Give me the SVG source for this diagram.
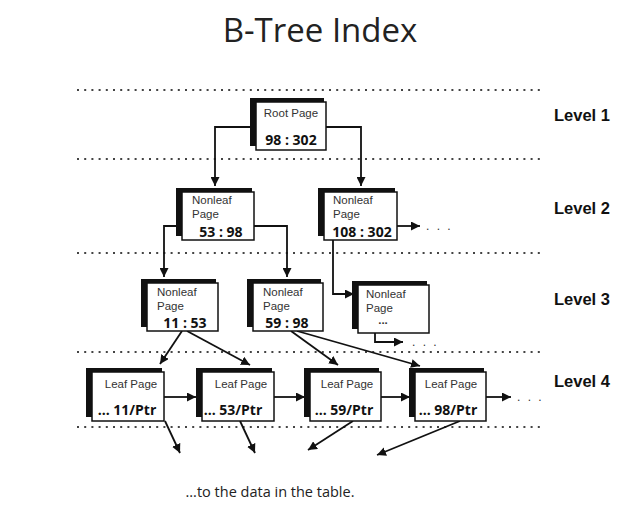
<svg xmlns="http://www.w3.org/2000/svg" width="644" height="514" viewBox="0 0 644 514">
<defs>
<marker id="ah" viewBox="0 0 10 10" refX="10" refY="5" markerWidth="9" markerHeight="9" markerUnits="userSpaceOnUse" orient="auto"><path d="M0,0 L10,5 L0,10 z" fill="#111"/></marker>
<style>
.dot{stroke:#444;stroke-width:2;stroke-dasharray:2 5.2;fill:none}
.sh{fill:#111}
.bx{fill:#fff;stroke:#111;stroke-width:1.5}
.lbl{font-family:"Liberation Sans",Arial,sans-serif;font-size:11.5px;fill:#333}
.num{font-family:"Open Sans","Liberation Sans",sans-serif;font-size:14px;font-weight:bold;fill:#111}
.lv{font-family:"Liberation Sans",Arial,sans-serif;font-size:16.5px;font-weight:bold;fill:#111}
.cn{stroke:#111;stroke-width:1.8;fill:none}
.ell{font-family:"Liberation Sans",Arial,sans-serif;font-size:12px;fill:#333;letter-spacing:2px}
</style>
</defs>
<rect width="644" height="514" fill="#fff"/>
<text x="320" y="42" text-anchor="middle" font-family="Open Sans, Liberation Sans, sans-serif" font-size="33" fill="#222">B-Tree Index</text>
<g id="dotted">
<line class="dot" x1="77" y1="90" x2="540" y2="90"/>
<line class="dot" x1="77" y1="159" x2="540" y2="159"/>
<line class="dot" x1="77" y1="253" x2="540" y2="253"/>
<line class="dot" x1="77" y1="352" x2="540" y2="352"/>
<line class="dot" x1="77" y1="427" x2="540" y2="427"/>
</g>
<g id="levels">
<text class="lv" x="554" y="121">Level 1</text>
<text class="lv" x="554" y="214">Level 2</text>
<text class="lv" x="554" y="305">Level 3</text>
<text class="lv" x="554" y="387">Level 4</text>
</g>
<g id="connectors">
<path class="cn" d="M256,127 H215 V186" marker-end="url(#ah)"/>
<path class="cn" d="M326,127 H361 V186" marker-end="url(#ah)"/>
<path class="cn" d="M182,226 H164 V277" marker-end="url(#ah)"/>
<path class="cn" d="M254,226 H287 V277" marker-end="url(#ah)"/>
<path class="cn" d="M397,226 H420" marker-end="url(#ah)"/>
<path class="cn" d="M333,240 V294 H354" marker-end="url(#ah)"/>
<path class="cn" d="M375,333 V342 H403" marker-end="url(#ah)"/>
<path class="cn" d="M182,331 L160,364" marker-end="url(#ah)"/>
<path class="cn" d="M187,331 L250,365" marker-end="url(#ah)"/>
<path class="cn" d="M291,331 L338,365" marker-end="url(#ah)"/>
<path class="cn" d="M297,331 L420,366" marker-end="url(#ah)"/>
<path class="cn" d="M164,397 H196" marker-end="url(#ah)"/>
<path class="cn" d="M274,397 H305" marker-end="url(#ah)"/>
<path class="cn" d="M381,397 H410" marker-end="url(#ah)"/>
<path class="cn" d="M486,397 H511" marker-end="url(#ah)"/>
<path class="cn" d="M165,421 L180,453" marker-end="url(#ah)"/>
<path class="cn" d="M240,421 L255,453" marker-end="url(#ah)"/>
<path class="cn" d="M353,421 L308,450" marker-end="url(#ah)"/>
<path class="cn" d="M460,421 L377,455" marker-end="url(#ah)"/>
<text class="ell" x="426" y="230">. . .</text>
<text class="ell" x="412" y="346">. . .</text>
<text class="ell" x="517" y="401">. . .</text>
</g>
<g id="root">
<rect class="sh" x="250" y="98" width="74" height="48"/>
<rect class="bx" x="256" y="102" width="70" height="48"/>
<text class="lbl" x="291" y="117" text-anchor="middle">Root Page</text>
<text class="num" x="291" y="145" text-anchor="middle">98 : 302</text>
</g>
<g id="nl2a">
<rect class="sh" x="176" y="188" width="76" height="48"/>
<rect class="bx" x="182" y="192" width="72" height="48"/>
<text class="lbl" x="192" y="204">Nonleaf</text>
<text class="lbl" x="192" y="218">Page</text>
<text class="num" x="221" y="237" text-anchor="middle">53 : 98</text>
</g>
<g id="nl2b">
<rect class="sh" x="318" y="188" width="77" height="48"/>
<rect class="bx" x="324" y="192" width="73" height="48"/>
<text class="lbl" x="333" y="204">Nonleaf</text>
<text class="lbl" x="333" y="218">Page</text>
<text class="num" x="362" y="237" text-anchor="middle">108 : 302</text>
</g>
<g id="nl3a">
<rect class="sh" x="141" y="279" width="75" height="48"/>
<rect class="bx" x="147" y="283" width="71" height="48"/>
<text class="lbl" x="157" y="296">Nonleaf</text>
<text class="lbl" x="157" y="310">Page</text>
<text class="num" x="185" y="328" text-anchor="middle">11 : 53</text>
</g>
<g id="nl3b">
<rect class="sh" x="247" y="279" width="74" height="48"/>
<rect class="bx" x="253" y="283" width="70" height="48"/>
<text class="lbl" x="263" y="296">Nonleaf</text>
<text class="lbl" x="263" y="310">Page</text>
<text class="num" x="287" y="328" text-anchor="middle">59 : 98</text>
</g>
<g id="nl3c">
<rect class="sh" x="352" y="281" width="75" height="48"/>
<rect class="bx" x="358" y="285" width="71" height="48"/>
<text class="lbl" x="366" y="298">Nonleaf</text>
<text class="lbl" x="366" y="312">Page</text>
<text class="lbl" x="383" y="324" text-anchor="middle" font-weight="bold">...</text>
</g>
<g id="leaf1">
<rect class="sh" x="86" y="368" width="76" height="49"/>
<rect class="bx" x="92" y="372" width="72" height="49"/>
<text class="lbl" x="131" y="388" text-anchor="middle">Leaf Page</text>
<text class="num" x="127" y="415" text-anchor="middle">... 11/Ptr</text>
</g>
<g id="leaf2">
<rect class="sh" x="196" y="368" width="76" height="49"/>
<rect class="bx" x="202" y="372" width="72" height="49"/>
<text class="lbl" x="241" y="388" text-anchor="middle">Leaf Page</text>
<text class="num" x="233" y="415" text-anchor="middle">... 53/Ptr</text>
</g>
<g id="leaf3">
<rect class="sh" x="304" y="368" width="75" height="49"/>
<rect class="bx" x="310" y="372" width="71" height="49"/>
<text class="lbl" x="347" y="388" text-anchor="middle">Leaf Page</text>
<text class="num" x="344" y="415" text-anchor="middle">... 59/Ptr</text>
</g>
<g id="leaf4">
<rect class="sh" x="409" y="368" width="75" height="49"/>
<rect class="bx" x="415" y="372" width="71" height="49"/>
<text class="lbl" x="451" y="388" text-anchor="middle">Leaf Page</text>
<text class="num" x="448" y="415" text-anchor="middle">... 98/Ptr</text>
</g>
<text x="270" y="497" text-anchor="middle" font-family="Open Sans, Liberation Sans, sans-serif" font-size="14.5" fill="#222">...to the data in the table.</text>
</svg>
